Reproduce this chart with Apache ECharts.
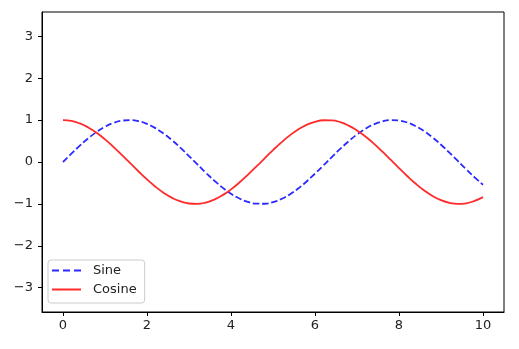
<!DOCTYPE html>
<html><head><meta charset="utf-8">
<script src="https://cdn.jsdelivr.net/npm/echarts@6/dist/echarts.min.js"></script>
<style>html,body{margin:0;padding:0;background:#fff}#c{width:519px;height:349px}</style>
</head><body><div id="c"></div>
<script>
const xValues = [0,0.2,0.4,0.6,0.8,1.0,1.2,1.4,1.6,1.8,2.0,2.2,2.4,2.6,2.8,3.0,3.2,3.4,3.6,3.8,4.0,4.2,4.4,4.6,4.8,5.0,5.2,5.4,5.6,5.8,6.0,6.2,6.4,6.6,6.8,7.0,7.2,7.4,7.6,7.8,8.0,8.2,8.4,8.6,8.8,9.0,9.2,9.4,9.6,9.8,10.0];
const sineValues = [0.000,0.199,0.389,0.565,0.717,0.841,0.932,0.985,1.000,0.974,0.909,0.808,0.675,0.516,0.335,0.141,-0.058,-0.256,-0.443,-0.612,-0.757,-0.872,-0.952,-0.994,-0.996,-0.959,-0.883,-0.773,-0.631,-0.465,-0.279,-0.083,0.117,0.312,0.494,0.657,0.794,0.899,0.968,0.999,0.989,0.941,0.855,0.735,0.585,0.412,0.223,0.025,-0.174,-0.366,-0.544];
const cosineValues = [1.000,0.980,0.921,0.825,0.697,0.540,0.362,0.170,-0.029,-0.227,-0.416,-0.589,-0.737,-0.857,-0.942,-0.990,-0.998,-0.967,-0.897,-0.791,-0.654,-0.490,-0.307,-0.112,0.087,0.284,0.469,0.635,0.776,0.886,0.960,0.997,0.993,0.951,0.869,0.754,0.608,0.439,0.252,0.055,-0.146,-0.340,-0.520,-0.678,-0.811,-0.911,-0.975,-1.000,-0.985,-0.930,-0.839];
const xTicks = [0,2,4,6,8,10];
const yTicks = [-3,-2,-1,0,1,2,3];
const seriesNames = ['Sine','Cosine'];

const chart = echarts.init(document.getElementById('c'), null, {renderer:'canvas'});
const fmt = v => String(v).replace('-', '\u2212');
const font = 'DejaVu Sans';
const blue = '#2a2aff', red = '#ff2a2a';
const dashIcon = 'path://M0,0H7V2H0Z M11,0H18V2H11Z M22,0H29V2H22Z';
const solidIcon = 'path://M0,0H29V2H0Z';
chart.setOption({
  animation: false,
  backgroundColor: '#fff',
  grid: {left: 42, top: 12, width: 462, height: 300, show: true, borderColor: '#000', borderWidth: 1, backgroundColor: 'transparent'},
  xAxis: {
    type: 'value', min: -0.5, max: 10.5,
    splitLine: {show: false},
    axisLine: {show: true, onZero: false, lineStyle: {color: '#000', width: 1}},
    axisTick: {show: true, customValues: xTicks, length: 4, lineStyle: {color: '#000'}},
    axisLabel: {customValues: xTicks, formatter: fmt, color: '#222', fontFamily: font, fontSize: 13, margin: 7}
  },
  yAxis: {
    type: 'value', min: -3.58, max: 3.58,
    splitLine: {show: false},
    axisLine: {show: true, onZero: false, lineStyle: {color: '#000', width: 1}},
    axisTick: {show: true, customValues: yTicks, length: 4, lineStyle: {color: '#000'}},
    axisLabel: {customValues: yTicks, formatter: fmt, color: '#222', fontFamily: font, fontSize: 13, margin: 9}
  },
  legend: {
    orient: 'vertical', left: 48, top: 260,
    padding: [4, 8, 7, 4], itemGap: 6, itemWidth: 29, itemHeight: 14,
    backgroundColor: 'rgba(255,255,255,0.8)', borderColor: '#ccc', borderWidth: 1, borderRadius: 3,
    textStyle: {fontFamily: font, fontSize: 13, color: '#222', padding: [0,0,0,7]},
    data: [{name: seriesNames[0], icon: dashIcon}, {name: seriesNames[1], icon: solidIcon}]
  },
  series: [
    {name: seriesNames[0], type: 'line', data: xValues.map((x,i)=>[x, sineValues[i]]), smooth: true, symbol: 'none',
     lineStyle: {color: blue, width: 1.8, type: [6.5, 2.8]}, itemStyle: {color: blue}},
    {name: seriesNames[1], type: 'line', data: xValues.map((x,i)=>[x, cosineValues[i]]), smooth: true, symbol: 'none',
     lineStyle: {color: red, width: 1.8}, itemStyle: {color: red}}
  ]
});
</script></body></html>
